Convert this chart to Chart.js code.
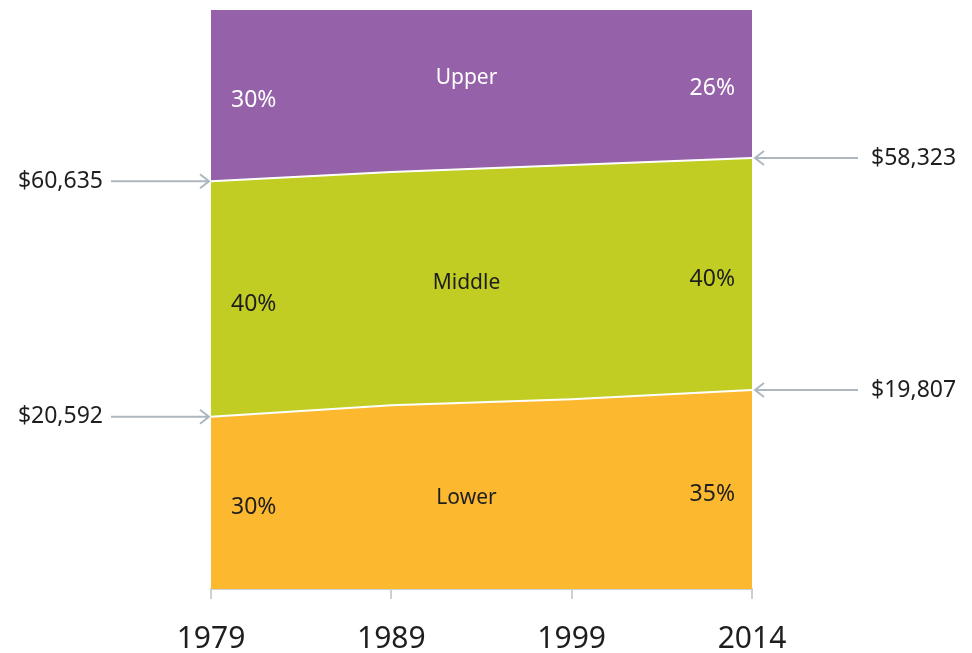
<!DOCTYPE html>
<html>
<head>
<meta charset="utf-8">
<script src="https://cdn.jsdelivr.net/npm/chart.js@4"></script>
<style>
  html, body { margin: 0; padding: 0; background: #fff; }
  #wrap { width: 972px; height: 653px; }
</style>
</head>
<body>
<div id="wrap"><canvas id="chart"></canvas></div>
<script>
// share of adults (%) in each income tier
const years = ['1979', '1989', '1999', '2014'];
const lower = [29.7, 31.7, 32.7, 34.3];
const middle = [40.6, 40.2, 40.4, 40.0];
const upper = [29.7, 28.1, 26.9, 25.7];

// labels printed inside the bands (first year, last year)
const tierNames = ['Lower', 'Middle', 'Upper'];
const lowerShare = ['30%', '35%'];
const middleShare = ['40%', '40%'];
const upperShare = ['30%', '26%'];

// income thresholds at the tier boundaries
const thresholdStart = ['$20,592', '$60,635'];
const thresholdEnd = ['$19,807', '$58,323'];

const colors = { lower: '#fcb930', middle: '#c1cd23', upper: '#9561a8' };
const arrowColor = '#aeb7bf';
const darkText = '#1e1e1e';
const fontFamily = '"Noto Sans", "Open Sans", sans-serif';

function arrow(ctx, x1, x2, y) {
    // line from x1 to x2 with an open head at x2
    const dir = x2 > x1 ? 1 : -1;
    ctx.save();
    ctx.strokeStyle = arrowColor;
    ctx.lineWidth = 2;
    ctx.beginPath();
    ctx.moveTo(x1, y);
    ctx.lineTo(x2, y);
    ctx.moveTo(x2 - dir * 9, y - 7);
    ctx.lineTo(x2, y);
    ctx.lineTo(x2 - dir * 9, y + 7);
    ctx.stroke();
    ctx.restore();
}

const labelsPlugin = {
    id: 'bandLabels',
    afterDatasetsDraw(chart) {
        const { ctx, scales: { x, y } } = chart;
        const last = years.length - 1;
        const bands = [
            { vals: lower, base: i => 0, share: lowerShare, color: darkText, name: tierNames[0], nameDy: 2 },
            { vals: middle, base: i => lower[i], share: middleShare, color: darkText, name: tierNames[1], nameDy: -2 },
            { vals: upper, base: i => lower[i] + middle[i], share: upperShare, color: '#ffffff', name: tierNames[2], nameDy: -11 }
        ];
        ctx.save();
        ctx.textBaseline = 'middle';
        bands.forEach(b => {
            const mid = i => y.getPixelForValue(b.base(i) + b.vals[i] / 2);
            ctx.fillStyle = b.color;
            ctx.font = '23px ' + fontFamily;
            ctx.textAlign = 'left';
            ctx.fillText(b.share[0], x.getPixelForValue(0) + 20, mid(0) + 5);
            ctx.textAlign = 'right';
            ctx.fillText(b.share[1], x.getPixelForValue(last) - 17, mid(last) + 5);
            // tier name between the 2nd and 3rd year
            ctx.font = '21px ' + fontFamily;
            ctx.textAlign = 'center';
            const cx = (x.getPixelForValue(1) + x.getPixelForValue(2)) / 2 - 15;
            const cy = (mid(1) + mid(2)) / 2 + b.nameDy;
            ctx.fillText(b.name, cx, cy);
        });
        ctx.restore();
    },
    afterDraw(chart) {
        const { ctx, chartArea: a, scales: { y } } = chart;
        const last = years.length - 1;
        const yStart = [y.getPixelForValue(lower[0]), y.getPixelForValue(lower[0] + middle[0])];
        const yEnd = [y.getPixelForValue(lower[last]), y.getPixelForValue(lower[last] + middle[last])];
        ctx.save();
        ctx.font = '23px ' + fontFamily;
        ctx.fillStyle = darkText;
        ctx.textBaseline = 'middle';
        for (let k = 0; k < 2; k++) {
            arrow(ctx, a.left - 100, a.left - 2, yStart[k]);
            ctx.textAlign = 'right';
            ctx.fillText(thresholdStart[k], a.left - 108, yStart[k]);
            arrow(ctx, a.right + 106, a.right + 3, yEnd[k]);
            ctx.textAlign = 'left';
            ctx.fillText(thresholdEnd[k], a.right + 119, yEnd[k]);
        }
        ctx.restore();
    }
};

const area = (label, data, color, fill) => ({
    label: label,
    data: data,
    backgroundColor: color,
    borderColor: '#ffffff',
    borderWidth: 2,
    pointRadius: 0,
    tension: 0,
    fill: fill
});

new Chart(document.getElementById('chart'), {
    type: 'line',
    data: {
        labels: years,
        datasets: [
            area('Lower', lower, colors.lower, 'origin'),
            area('Middle', middle, colors.middle, '-1'),
            area('Upper', upper, colors.upper, '-1')
        ]
    },
    options: {
        responsive: true,
        maintainAspectRatio: false,
        animation: false,
        layout: { padding: { left: 211, right: 220, top: 9, bottom: 0 } },
        plugins: { legend: { display: false }, tooltip: { enabled: false } },
        scales: {
            x: {
                offset: false,
                grid: { drawOnChartArea: false, tickLength: 10, tickColor: '#c9d0d6', lineWidth: 2 },
                border: { color: '#c9d0d6', width: 2 },
                ticks: { color: darkText, font: { family: fontFamily, size: 30 }, padding: 22, maxRotation: 0 },
                afterFit: s => { s.height = 64; }
            },
            y: { display: false, stacked: true, min: 0, max: 100 }
        }
    },
    plugins: [labelsPlugin]
});
</script>
</body>
</html>
